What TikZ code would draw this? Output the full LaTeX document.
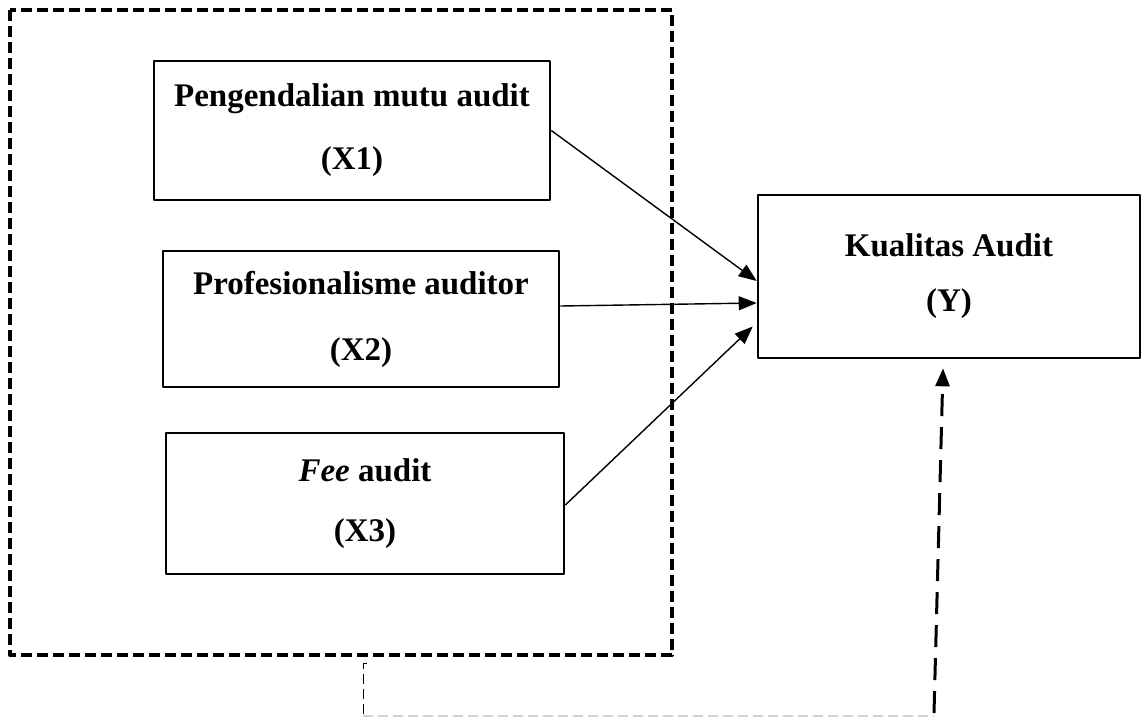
\documentclass[tikz,border=0pt]{standalone}
\usepackage{fontspec}
\setmainfont{Liberation Serif}
\usetikzlibrary{arrows.meta,calc}
\begin{document}
\begin{tikzpicture}[x=1pt, y=-1pt, line join=round, >={Triangle[length=18pt,width=14pt]},
		font=\fontsize{33}{40}\selectfont\bfseries,
		var/.style={draw, line width=2.6pt, align=center, inner sep=0pt},
		link/.style={->, line width=1.4pt}]
	\useasboundingbox (0,0) rectangle (1142,717);
	\draw[line width=4pt, dash pattern=on 11pt off 5pt] (10,10) rectangle (672,655);
	\node[var, minimum width=396pt, minimum height=139pt] (x1) at (352,130.5) {Pengendalian mutu audit\\[23pt](X1)};
	\node[var, minimum width=396pt, minimum height=136pt] (x2) at (361,319) {Profesionalisme auditor\\[26pt](X2)};
	\node[var, minimum width=398pt, minimum height=141pt] (x3) at (365,503.5) {\textit{Fee} audit\\[20pt](X3)};
	\node[var, minimum width=382pt, minimum height=163pt] (y) at (949,276.5) {Kualitas Audit\\[15pt](Y)};
	\draw[link] (x1.east) -- ($(y.west)+(0,4.5)$);
	\draw[link] ($(x2.east)+(0,-13)$) -- ($(y.west)+(0,26.5)$);
	\draw[link] ($(x3.east)+(0,1.5)$) -- ($(y.west)+(-4,50)$);
	\coordinate (s) at (934,713);
	\draw[->, line width=3pt, dash pattern=on 22pt off 11pt] (s) -- ($(y.south)+(-6,9)$);
	\draw[gray!35, line width=1.5pt, dash pattern=on 10pt off 5pt] (363,716) -- (s |- 0,716);
	\draw[line width=1pt, dash pattern=on 10pt off 5pt] (367,663) -- (363,663) -- (363,715);
\end{tikzpicture}
\end{document}
